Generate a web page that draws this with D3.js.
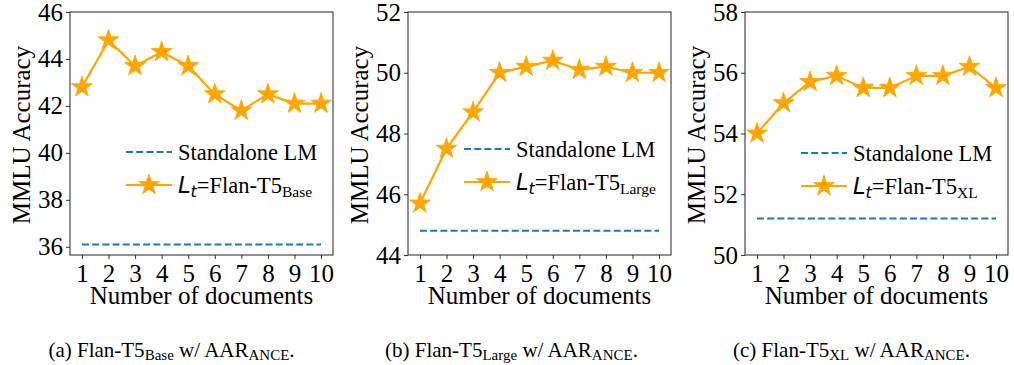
<!DOCTYPE html>
<html>
<head>
<meta charset="utf-8">
<script src="https://cdn.jsdelivr.net/npm/d3@7"></script>
<style>
  body { margin: 0; background: #fff; }
  svg { display: block; }
</style>
</head>
<body>
<div id="chart"></div>
<script>
// values
const docs = [1, 2, 3, 4, 5, 6, 7, 8, 9, 10];
const baseAcc = [42.8, 44.8, 43.7, 44.3, 43.7, 42.5, 41.8, 42.5, 42.1, 42.1];
const largeAcc = [45.7, 47.5, 48.7, 50.0, 50.2, 50.4, 50.1, 50.2, 50.0, 50.0];
const xlAcc = [54.0, 55.0, 55.7, 55.9, 55.5, 55.5, 55.9, 55.9, 56.2, 55.5];
const standaloneAcc = [36.1, 44.8, 51.2];
const modelNames = ["Base", "Large", "XL"];
const captionTags = ["(a)", "(b)", "(c)"];
const yTicks = [
    [36, 38, 40, 42, 44, 46],
    [44, 46, 48, 50, 52],
    [50, 52, 54, 56, 58]
];
const yDomains = [[35.65, 46], [44, 52], [50, 58]];

const serif = "'Liberation Serif', 'Times New Roman', serif";

const W = 1014, H = 365;
const svg = d3.select("#chart").append("svg")
    .attr("width", W)
    .attr("height", H)
    .attr("font-family", serif);

const panelLeft = [70, 408, 745];
const plotW = 263;
const plotTop = 12, plotBottom = 255;
const legendY = [152, 149, 153];
const captionX = [171.5, 511.5, 851.5];
const series = [baseAcc, largeAcc, xlAcc];
const orange = "#ffa500";
const blue = "#1f77b4";

const star = d3.symbol().type(d3.symbolStar).size(135);

series.forEach((vals, p) => {
    const x = d3.scaleLinear().domain([0.55, 10.45]).range([panelLeft[p], panelLeft[p] + plotW]);
    const y = d3.scaleLinear().domain(yDomains[p]).range([plotBottom, plotTop]);
    const g = svg.append("g");

    // axes
    const xAxis = g.append("g")
        .attr("transform", `translate(0,${plotBottom})`)
        .call(d3.axisBottom(x).tickValues(docs).tickSize(4).tickPadding(5).tickFormat(d3.format("d")));
    const yAxis = g.append("g")
        .attr("transform", `translate(${panelLeft[p]},0)`)
        .call(d3.axisLeft(y).tickValues(yTicks[p]).tickSize(4).tickPadding(3).tickFormat(d3.format("d")));
    [xAxis, yAxis].forEach(a => {
        a.attr("font-family", serif).attr("font-size", 25);
        a.select(".domain").remove();
        a.selectAll(".tick line").attr("stroke", "#333");
        a.selectAll(".tick text").attr("fill", "#000");
    });

    // frame
    g.append("rect")
        .attr("x", panelLeft[p]).attr("y", plotTop)
        .attr("width", plotW).attr("height", plotBottom - plotTop)
        .attr("fill", "none").attr("stroke", "#222").attr("stroke-width", 1);

    // standalone baseline
    g.append("line")
        .attr("x1", x(1)).attr("x2", x(10))
        .attr("y1", y(standaloneAcc[p])).attr("y2", y(standaloneAcc[p]))
        .attr("stroke", blue).attr("stroke-width", 2)
        .attr("stroke-dasharray", "7,3.2");

    // data line
    const line = d3.line().x((d, i) => x(docs[i])).y(d => y(d));
    g.append("path")
        .datum(vals)
        .attr("d", line)
        .attr("fill", "none")
        .attr("stroke", orange)
        .attr("stroke-width", 2.2);

    g.selectAll("path.pt")
        .data(vals)
        .enter().append("path")
        .attr("class", "pt")
        .attr("d", star)
        .attr("transform", (d, i) => `translate(${x(docs[i])},${y(d)})`)
        .attr("fill", orange)
        .attr("stroke", orange)
        .attr("stroke-width", 0.8);

    // axis titles
    g.append("text")
        .attr("x", panelLeft[p] + plotW / 2)
        .attr("y", 304)
        .attr("text-anchor", "middle")
        .attr("font-size", 25)
        .text("Number of documents");
    g.append("text")
        .attr("transform", `translate(${panelLeft[p] - 40},135) rotate(-90)`)
        .attr("text-anchor", "middle")
        .attr("font-size", 25)
        .text("MMLU Accuracy");

    // legend
    const lx = panelLeft[p] + 56;
    const ly = legendY[p];
    g.append("line")
        .attr("x1", lx).attr("x2", lx + 46)
        .attr("y1", ly).attr("y2", ly)
        .attr("stroke", blue).attr("stroke-width", 2)
        .attr("stroke-dasharray", "7,3.2");
    g.append("text")
        .attr("x", lx + 52).attr("y", ly + 7.5)
        .attr("font-size", 22.5)
        .text("Standalone LM");
    const ly2 = ly + 33;
    g.append("line")
        .attr("x1", lx).attr("x2", lx + 46)
        .attr("y1", ly2).attr("y2", ly2)
        .attr("stroke", orange).attr("stroke-width", 2.2);
    g.append("path")
        .attr("d", star)
        .attr("transform", `translate(${lx + 23},${ly2})`)
        .attr("fill", orange).attr("stroke", orange).attr("stroke-width", 0.8);
    const lt = g.append("text")
        .attr("x", lx + 52).attr("y", ly2 + 7.5)
        .attr("font-size", 22.5);
    lt.append("tspan")
        .attr("font-family", "'DejaVu Sans', sans-serif")
        .attr("font-style", "italic")
        .text("L");
    lt.append("tspan")
        .attr("font-family", "'DejaVu Sans', sans-serif")
        .attr("font-style", "italic")
        .attr("font-size", 16)
        .attr("dy", 4)
        .text("t");
    lt.append("tspan")
        .attr("dy", -4)
        .text("=Flan-T5");
    lt.append("tspan")
        .attr("font-size", 15.5)
        .attr("dy", 4)
        .text(modelNames[p]);

    // caption
    const cap = g.append("text")
        .attr("x", captionX[p]).attr("y", 357)
        .attr("text-anchor", "middle")
        .attr("font-size", 21);
    cap.append("tspan").text(captionTags[p] + " Flan-T5");
    cap.append("tspan").attr("font-size", 15).attr("dy", 3).text(modelNames[p]);
    cap.append("tspan").attr("dy", -3).text(" w/ AAR");
    cap.append("tspan").attr("font-size", 15).attr("dy", 3).text("ANCE");
    cap.append("tspan").attr("dy", -3).text(".");
});
</script>
</body>
</html>
